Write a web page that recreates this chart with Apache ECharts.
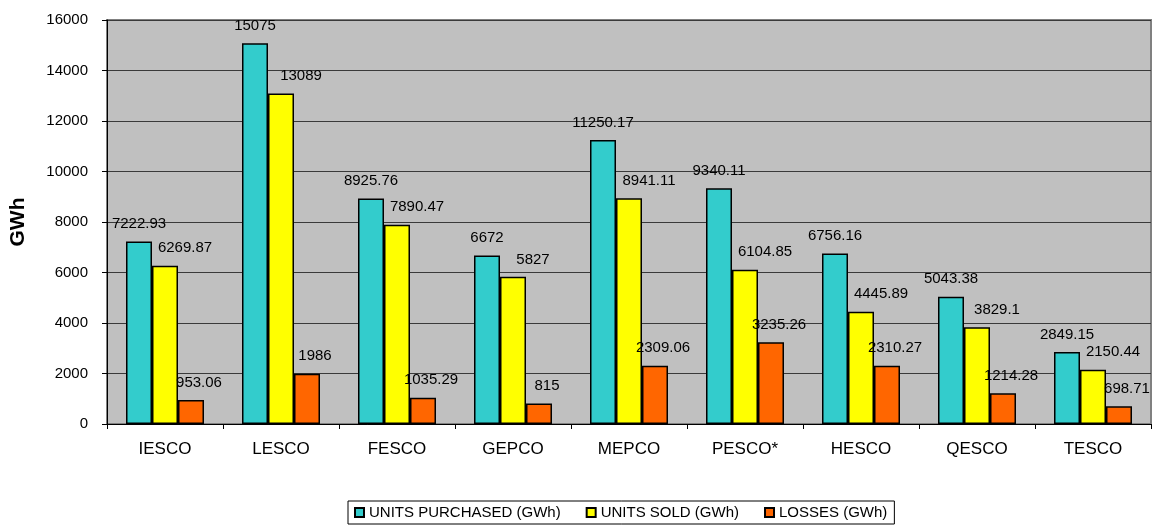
<!DOCTYPE html>
<html><head><meta charset="utf-8">
<script src="https://cdn.jsdelivr.net/npm/echarts@6/dist/echarts.min.js"></script>
<style>html,body{margin:0;padding:0;background:#fff}#c{width:1153px;height:527px}</style>
</head><body><div id="c"></div>
<script>
const categories = ['IESCO','LESCO','FESCO','GEPCO','MEPCO','PESCO*','HESCO','QESCO','TESCO'];
const unitsPurchased = [7222.93,15075,8925.76,6672,11250.17,9340.11,6756.16,5043.38,2849.15];
const unitsSold = [6269.87,13089,7890.47,5827,8941.11,6104.85,4445.89,3829.1,2150.44];
const losses = [953.06,1986,1035.29,815,2309.06,3235.26,2310.27,1214.28,698.71];
const seriesNames = ['UNITS PURCHASED (GWh)','UNITS SOLD (GWh)','LOSSES (GWh)'];
const yTicks = [0,2000,4000,6000,8000,10000,12000,14000,16000];

const font = 'Liberation Sans, Arial, sans-serif';
const chart = echarts.init(document.getElementById('c'));
function mk(name, data, color, dx){
  return {
    name, type:'bar', data, barWidth:26, barGap:'0%',
    itemStyle:{color, borderColor:'#000', borderWidth:1.5},
    label:{show:true, position:'top', distance:10, offset:[dx,0], color:'#000', fontFamily:font, fontSize:15,
      formatter:p => String(p.value)},
    emphasis:{disabled:true}
  };
}
chart.setOption({
  animation:false,
  textStyle:{fontFamily:font},
  grid:{left:106, right:2, top:20, bottom:103, show:true, backgroundColor:'#C0C0C0', borderColor:'#808080', borderWidth:2},
  legend:{
    data:seriesNames, left:348, top:501, orient:'horizontal',
    itemWidth:9, itemHeight:9, itemGap:25, icon:'rect',
    borderColor:'#000', borderWidth:1, padding:[4,7,4,6],
    textStyle:{fontFamily:font, fontSize:15, color:'#000'}
  },
  xAxis:{
    type:'category', data:categories,
    axisLine:{lineStyle:{color:'#000', width:1}},
    axisTick:{show:true, length:5, inside:false, alignWithLabel:false, lineStyle:{color:'#000'}},
    axisLabel:{color:'#000', fontFamily:font, fontSize:17, margin:17}
  },
  yAxis:{
    type:'value', min:yTicks[0], max:yTicks[yTicks.length-1], interval:2000,
    name:'GWh', nameLocation:'middle', nameGap:78, nameRotate:90,
    nameTextStyle:{fontFamily:font, fontSize:21, fontWeight:'bold', color:'#000'},
    axisLine:{show:true, lineStyle:{color:'#000', width:1}},
    axisTick:{show:true, length:5, lineStyle:{color:'#000'}},
    axisLabel:{color:'#000', fontFamily:font, fontSize:15, margin:19, formatter:v => String(v)},
    splitLine:{show:true, lineStyle:{color:'#3a3a3a', width:1.2}}
  },
  series:[
    mk(seriesNames[0], unitsPurchased, '#33CCCC', 0),
    mk(seriesNames[1], unitsSold, '#FFFF00', 20),
    mk(seriesNames[2], losses, '#FF6600', 8)
  ]
});
</script></body></html>
